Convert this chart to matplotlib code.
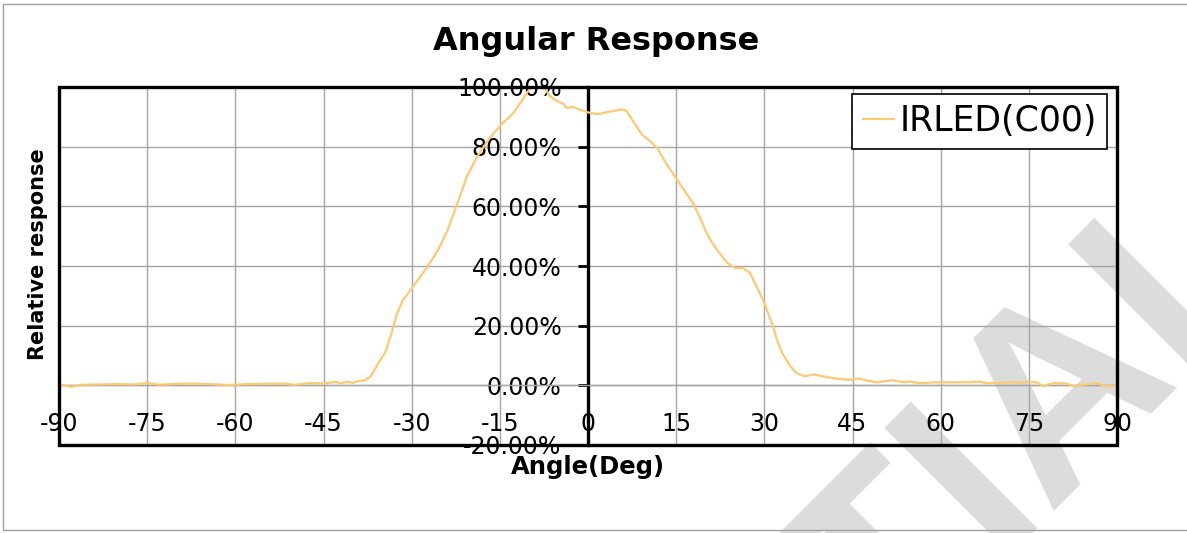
import numpy as np
import matplotlib.pyplot as plt
from matplotlib.patches import Rectangle

# angle (deg) vs relative response (%)
angle = [-90, -88, -86, -83, -80, -77, -75, -73, -70, -67, -64, -61, -58, -55,
         -52, -50, -47, -45, -43, -42, -41, -40, -39, -38, -37, -36.5, -35.5,
         -34.5, -33.5, -32.5, -31.5, -30, -28.5, -27.4, -26.4, -25.2, -24,
         -22.5, -20.6, -18.9, -16.7, -14.5, -12.8, -11.2, -9.9, -8.5, -7.5,
         -6.5, -5.5, -4.3, -3.6, -2.6, -1.5, -0.2, 1.2, 2.0, 3.2, 4.5, 5.8,
         6.5, 7.2, 8.2, 9.2, 10.5, 11.8, 12.8, 13.5, 15.2, 16.5, 17.9, 19.1,
         20.2, 21.2, 22.5, 23.7, 25, 26.4, 27.6, 28.7, 29.8, 31.3, 32.2, 33,
         34.2, 35.3, 36.2, 37, 38.3, 39.5, 40.7, 42.5, 44.6, 46, 47.5, 49.2,
         50.5, 51.8, 53.7, 54.8, 56.5, 58.8, 61.5, 64.5, 66.5, 68, 70, 71.9,
         74, 75.8, 76.5, 77.5, 79, 80.4, 81.5, 82.6, 84.5, 86.7, 88, 90]
response = [0.3, -0.5, 0.2, 0.3, 0.4, 0.3, 0.8, 0.2, 0.5, 0.6, 0.4, 0.1, 0.4, 0.5,
            0.6, 0.2, 0.8, 0.6, 1.2, 0.6, 1.3, 0.8, 1.5, 1.6, 3.0, 4.5, 8.0,
            11.0, 17.0, 24.0, 28.5, 32.5, 36.5, 39.6, 42.6, 46.5, 51.5,
            59.5, 70, 76.5, 83, 88, 91, 95.6, 99.5, 100.3, 100,
            97, 95.5, 94.5, 93, 93.3, 92.5, 91.6, 91, 91, 91.6, 92, 92.5,
            92, 90, 87, 84, 82, 79.5, 76, 73.8, 68.8, 65, 61, 56,
            51, 47.5, 44, 41, 39.3, 39.3, 37.6, 33, 28.5, 20.8, 15, 11,
            7, 4.4, 3.5, 3, 3.7, 3.2, 2.7, 2.2, 1.8, 2.3, 1.6, 1.0,
            1.4, 1.7, 1.0, 1.3, 0.7, 1.0, 1.0, 1.0, 1.2, 0.7, 0.9, 1.0,
            0.9, 1.2, 0.8, -0.3, 0.7, 0.7, 0.6, -0.3, 0.3, 0.7, -0.3, -0.2]

x_ticks = list(range(-90, 91, 15))
y_ticks = [-20, 0, 20, 40, 60, 80, 100]

W, H = 1187, 533
fig = plt.figure(figsize=(W / 100, H / 100), dpi=100)

ax = fig.add_axes([59 / W, 1 - 445 / H, (1117 - 59) / W, (445 - 87) / H])
ax.patch.set_alpha(0)

# axes cross at 0,0 like the excel chart
ax.spines['left'].set_position(('data', 0))
ax.spines['left'].set_linewidth(2.4)
ax.spines['left'].set_color('black')
ax.spines['bottom'].set_position(('data', 0))
ax.spines['bottom'].set_color('#A6A6A6')
ax.spines['bottom'].set_linewidth(1.0)
ax.spines['top'].set_visible(False)
ax.spines['right'].set_visible(False)

ax.plot(angle, response, color='#FFC972', lw=1.6, label='IRLED(C00)', zorder=3)

ax.set_xlim(-90, 90)
ax.set_ylim(-20, 100)
ax.set_xticks(x_ticks)
ax.set_xticklabels([str(t) for t in x_ticks])
ax.set_yticks(y_ticks)
ax.set_yticklabels(['%.2f%%' % v for v in y_ticks])
ax.grid(True, color='#A6A6A6', lw=1.0)
ax.set_axisbelow(True)
ax.tick_params(axis='y', length=7, width=2, direction='out', pad=12, labelsize=17)
ax.tick_params(axis='x', length=0, pad=19, labelsize=17)

ax.add_patch(Rectangle((0, 0), 1, 1, transform=ax.transAxes, fill=False,
                       ec='black', lw=2.4, clip_on=False, zorder=4))

leg = ax.legend(loc='upper right', bbox_to_anchor=(1107 / W, 1 - 94 / H),
                bbox_transform=fig.transFigure, borderaxespad=0,
                prop={'size': 25}, fancybox=False,
                edgecolor='black', framealpha=1, handlelength=0.9,
                handletextpad=0.15, borderpad=0.3)
leg.get_frame().set_linewidth(1.2)

fig.text(596 / W, 1 - 50 / H, 'Angular Response', ha='center', va='baseline',
         fontsize=23, fontweight='bold')
fig.text(588 / W, 1 - 474 / H, 'Angle(Deg)', ha='center', va='baseline',
         fontsize=17.5, fontweight='bold')
fig.text(38 / W, 1 - 254 / H, 'Relative response', ha='center', va='center',
         rotation=90, fontsize=15, fontweight='bold')

# watermark
fig.text(1292 / W, 1 - 263 / H, 'CONFIDENTIAL', ha='right', va='baseline',
         rotation=45, rotation_mode='anchor', fontsize=187, fontweight='bold',
         family='Liberation Sans', color='#DCDCDC', zorder=-2)

fig.add_artist(Rectangle((3 / W, 3 / H), 1.2, (H - 7) / H, transform=fig.transFigure,
                         fill=False, ec='#A0A0A0', lw=1.0, zorder=-1))

fig.savefig('out.png', dpi=100)
